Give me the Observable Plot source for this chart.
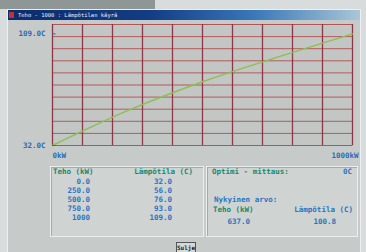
<!DOCTYPE html>
<html><head><meta charset="utf-8">
<script src="https://cdn.jsdelivr.net/npm/d3@7"></script>
<script src="https://cdn.jsdelivr.net/npm/@observablehq/plot@0.6"></script>
<style>
body{margin:0;width:366px;height:252px;overflow:hidden;background:#d8dcdc;font-family:"DejaVu Sans Mono",monospace;font-size:7.5px;font-weight:bold;position:relative}
#strip{position:absolute;left:0;top:0;width:155px;height:9px;background:#8e9696;}
#win{position:absolute;left:7px;top:9px;width:352px;height:243px;background:#c6cbc9;border:1px solid #eef0f0;}
#title{position:absolute;left:8px;top:10px;width:352px;height:10px;background:linear-gradient(90deg,#0c2c6c 0%,#123c84 40%,#3a78b8 70%,#a9c6d6 100%);color:#e8eef8;font-size:5.5px;font-weight:normal;line-height:10px;padding-left:10px;box-sizing:border-box;white-space:nowrap}
#icon{position:absolute;left:9px;top:12px;width:5px;height:6px;background:#c83030}
#chart{position:absolute;left:0;top:0}
.panel{position:absolute;top:166px;height:69px;background:#cfd3d2;border:1px solid #eceff0;box-shadow:inset 1px 1px #a4aaaa}
.t{position:absolute;white-space:pre;line-height:9px}
.h{color:#17886c}
.v{color:#2a74c4}
#btn{position:absolute;left:176px;top:242px;width:18px;height:9px;background:#d4d8d8;border:1px solid #555;font-size:6px;line-height:9px;text-align:center;color:#222}
</style></head>
<body>
<div id="strip"></div>
<div id="win"></div>
<div id="title">Teho - 1000 : Lämpötilan käyrä</div>
<div id="icon"></div>
<div id="chart"></div>
<div class="panel" style="left:50px;width:152px"></div>
<div class="panel" style="left:206px;width:150px"></div>
<div id="texts"></div>
<div id="btn">Sulje</div>
<script>
const tehoValues = [0, 250, 500, 750, 1000];
const tempValues = [32, 56, 76, 93, 109];
const yLabels = [32, 109];
const xLabels = [0, 1000];
const headers = ["Teho (kW)", "Lämpötila (C)"];
const optimiLabel = "Optimi - mittaus:";
const optimiValue = "0C";
const currentLabel = "Nykyinen arvo:";
const currentTeho = 637.0;
const currentTemp = 100.8;

const yDomain = [32, 115.5];
const chart = Plot.plot({
  width: 366, height: 160,
  marginLeft: 52, marginRight: 14, marginTop: 24, marginBottom: 15,
  style: {background: "transparent", fontFamily: "DejaVu Sans Mono, monospace", fontSize: "7.5px", fontWeight: "bold"},
  x: {type: "linear", domain: [0, 1000], axis: null},
  y: {type: "linear", domain: yDomain, axis: null},
  marks: [
    Plot.frame({fill: "#c2c6c5", stroke: "#9aa0a0"}),
    Plot.gridY(d3.range(11).map(i => yDomain[0] + i * (yDomain[1] - yDomain[0]) / 10), {stroke: "#b44848", strokeOpacity: 0.85, strokeWidth: 1}),
    Plot.gridX(d3.range(0, 1001, 100), {stroke: "#8a3040", strokeOpacity: 0.95, strokeWidth: 1.3}),
    Plot.line(tehoValues.map((x, i) => ({x, y: tempValues[i]})), {x: "x", y: "y", stroke: "#8cc050", strokeWidth: 1.4, curve: "monotone-x"}),
    Plot.ruleY(yLabels, {x1: 0, x2: 12, y: d => d, stroke: "#2a6ab8"}),
    Plot.text(yLabels, {x: 0, y: d => d, text: d => d.toFixed(1) + "C", textAnchor: "end", dx: -7, fill: "#2a6ab8"}),
    Plot.text([xLabels[0]], {x: d => d, y: yDomain[0], text: d => d + "kW", textAnchor: "start", dy: 10, fill: "#2a6ab8"}),
    Plot.text([xLabels[1]], {x: d => d, y: yDomain[0], text: d => d + "kW", textAnchor: "end", dx: 6, dy: 10, fill: "#2a6ab8"})
  ]
});
document.getElementById("chart").appendChild(chart);

const fmt = v => v >= 1000 ? String(v) : v.toFixed(1);
const texts = document.getElementById("texts");
function put(txt, x, y, cls, align) {
  const d = document.createElement("div");
  d.className = "t " + cls;
  d.textContent = txt;
  d.style.top = (y - 5) + "px";
  if (align === "right") d.style.right = (366 - x) + "px"; else d.style.left = x + "px";
  texts.appendChild(d);
}
put(headers[0], 53, 172, "h");
put(headers[1], 193, 172, "h", "right");
tehoValues.forEach((v, i) => {
  const y = 182 + i * 9;
  put(fmt(v), 90, y, "v", "right");
  put(fmt(tempValues[i]), 172, y, "v", "right");
});
put(optimiLabel, 212, 172, "h");
put(optimiValue, 352, 172, "v", "right");
put(currentLabel, 214, 200, "v");
put(headers[0], 213, 210, "h");
put(headers[1], 353, 210, "v", "right");
put(currentTeho.toFixed(1), 250, 222, "v", "right");
put(currentTemp.toFixed(1), 336, 222, "v", "right");
</script>
</body></html>
